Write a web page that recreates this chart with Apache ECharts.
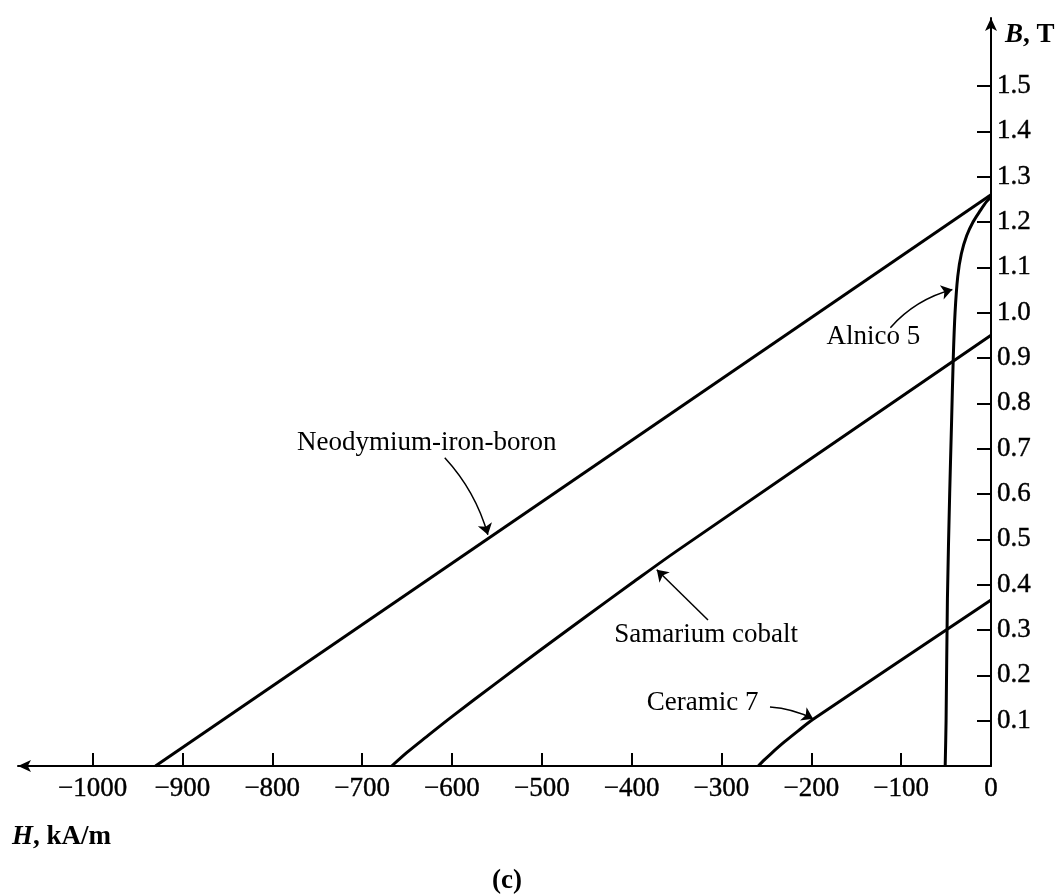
<!DOCTYPE html>
<html>
<head>
<meta charset="utf-8">
<script src="https://cdn.jsdelivr.net/npm/echarts@6/dist/echarts.min.js"></script>
<style>
html,body{margin:0;padding:0;background:#fff;}
#chart{width:1057px;height:896px;}
</style>
</head>
<body>
<div id="chart"></div>
<script>
// ---- data ----
const xTicks = [-1000, -900, -800, -700, -600, -500, -400, -300, -200, -100, 0];
const yTicks = [0.1, 0.2, 0.3, 0.4, 0.5, 0.6, 0.7, 0.8, 0.9, 1.0, 1.1, 1.2, 1.3, 1.4, 1.5];

const ndfebH = [-930, 0];
const ndfebB = [0, 1.26];

const smcoH = [-667, -650, -630, -600, -550, -500, -450, -400, -350, 0];
const smcoB = [0, 0.030, 0.062, 0.109, 0.184, 0.258, 0.331, 0.403, 0.474, 0.95];

const ceramicH = [-259, -252, -245, -230, -215, -198, 0];
const ceramicB = [0, 0.014, 0.027, 0.053, 0.077, 0.103, 0.366];

const alnicoH = [-51, -50, -48.5, -46, -44, -42, -40, -37, -33, -27, -20, -12, -5, 0];
const alnicoB = [0, 0.1, 0.37, 0.6, 0.75, 0.9, 1.0, 1.08, 1.13, 1.17, 1.2, 1.225, 1.245, 1.255];

const labelNames = ['Neodymium-iron-boron', 'Samarium cobalt', 'Ceramic 7', 'Alnico 5'];
const labelH = [-628, -317, -321, -131];
const labelB = [0.713, 0.289, 0.139, 0.947];
const arrowFromH = [-608, -315, -246, -112];
const arrowFromB = [0.680, 0.322, 0.130, 0.967];
const arrowToH = [-560, -372, -198, -43];
const arrowToB = [0.510, 0.433, 0.104, 1.051];
const arrowCurve = [0.12, 0, 0.1, 0.15];

const zip = (xs, ys) => xs.map((x, i) => [x, ys[i]]);

const FONT = '"Liberation Serif", "Times New Roman", serif';
const chart = echarts.init(document.getElementById('chart'), null, {renderer: 'canvas'});

const curveStyle = {color: '#000', width: 3};
const mkLine = (name, data, smooth) => ({
  name, type: 'line', data, showSymbol: false, symbol: 'none', smooth: smooth,
  lineStyle: curveStyle, itemStyle: {color: '#000'}, clip: false, silent: true, z: 3
});

const option = {
  animation: false,
  backgroundColor: '#fff',
  grid: {left: 18, right: 66, top: 18, bottom: 130, containLabel: false},
  xAxis: {
    type: 'value', min: -1083, max: 0,
    axisLine: {show: true, onZero: false, lineStyle: {color: '#000', width: 2},
      symbol: ['arrow', 'none'], symbolSize: [9, 13]},
    axisTick: {show: true, inside: true, length: 13, lineStyle: {color: '#000', width: 2},
      customValues: xTicks},
    axisLabel: {show: true, customValues: xTicks, margin: 9, color: '#000',
      fontFamily: FONT, fontSize: 27, textBorderColor: '#000', textBorderWidth: 0.4,
      formatter: v => (v < 0 ? '\u2212' + Math.abs(v) : String(v))},
    splitLine: {show: false}
  },
  yAxis: {
    type: 'value', min: 0, max: 1.65, position: 'right',
    axisLine: {show: true, onZero: false, lineStyle: {color: '#000', width: 2},
      symbol: ['none', 'arrow'], symbolSize: [9, 13]},
    axisTick: {show: true, inside: true, length: 14, lineStyle: {color: '#000', width: 2},
      customValues: yTicks},
    axisLabel: {show: true, customValues: yTicks, margin: 6, color: '#000',
      fontFamily: FONT, fontSize: 27, textBorderColor: '#000', textBorderWidth: 0.4,
      formatter: v => Number(v).toFixed(1)},
    splitLine: {show: false}
  },
  series: [
    mkLine('Neodymium-iron-boron', zip(ndfebH, ndfebB), false),
    mkLine('Samarium cobalt', zip(smcoH, smcoB), 0.3),
    mkLine('Ceramic 7', zip(ceramicH, ceramicB), 0.3),
    mkLine('Alnico 5', zip(alnicoH, alnicoB), 0.3),
    {
      type: 'lines', coordinateSystem: 'cartesian2d', polyline: false, silent: true, z: 4,
      symbol: ['none', 'arrow'], symbolSize: [7, 11],
      lineStyle: {color: '#000', width: 1.5, opacity: 1},
      data: labelNames.map((n, i) => ({
        coords: [[arrowFromH[i], arrowFromB[i]], [arrowToH[i], arrowToB[i]]],
        lineStyle: {curveness: arrowCurve[i]}
      }))
    },
    {
      type: 'scatter', symbolSize: 0, silent: true, z: 5, clip: false,
      itemStyle: {color: '#000', opacity: 1},
      data: labelNames.map((n, i) => ({name: n, value: [labelH[i], labelB[i]]})),
      label: {show: true, position: [0, 0], align: 'center', verticalAlign: 'middle',
        formatter: p => p.name, color: '#000', opacity: 1, textBorderWidth: 0,
        fontFamily: FONT, fontSize: 27}
    }
  ],
  graphic: [
    {type: 'text', left: 1005, top: 22, style: {
      text: '{i|B}{n|, T}',
      rich: {
        i: {fontFamily: FONT, fontSize: 27, fontStyle: 'italic', fontWeight: 'bold', fill: '#000'},
        n: {fontFamily: FONT, fontSize: 27, fontWeight: 'bold', fill: '#000'}
      }}},
    {type: 'text', left: 12, top: 824, style: {
      text: '{i|H}{n|, kA/m}',
      rich: {
        i: {fontFamily: FONT, fontSize: 27, fontStyle: 'italic', fontWeight: 'bold', fill: '#000'},
        n: {fontFamily: FONT, fontSize: 27, fontWeight: 'bold', fill: '#000'}
      }}},
    {type: 'text', left: 492, top: 868, style: {
      text: '(c)', fontFamily: FONT, fontSize: 27, fontWeight: 'bold', fill: '#000'}}
  ]
};
chart.setOption(option);
</script>
</body>
</html>
